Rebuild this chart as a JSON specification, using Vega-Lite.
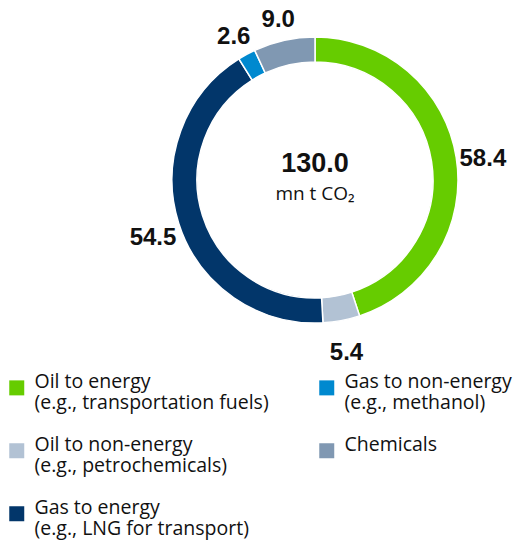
{
  "$schema": "https://vega.github.io/schema/vega-lite/v6.json",
  "width": 290,
  "height": 290,
  "autosize": {"type": "none"},
  "padding": {"left": 170, "top": 35, "right": 62, "bottom": 227},
  "background": "white",
  "config": {"view": {"stroke": null}, "font": "Liberation Sans"},
  "data": {
    "values": [
      {"category": "Oil to energy (e.g., transportation fuels)", "value": 58.4, "order": 1},
      {"category": "Oil to non-energy (e.g., petrochemicals)", "value": 5.4, "order": 2},
      {"category": "Gas to energy (e.g., LNG for transport)", "value": 54.5, "order": 3},
      {"category": "Gas to non-energy (e.g., methanol)", "value": 2.6, "order": 4},
      {"category": "Chemicals", "value": 9.0, "order": 5}
    ]
  },
  "layer": [
    {
      "mark": {"type": "arc", "innerRadius": 118, "outerRadius": 143, "stroke": "white", "strokeWidth": 1.5},
      "encoding": {
        "theta": {"field": "value", "type": "quantitative", "stack": true},
        "order": {"field": "order", "type": "quantitative"},
        "color": {
          "field": "category",
          "type": "nominal",
          "scale": {
            "domain": [
              "Oil to energy (e.g., transportation fuels)",
              "Oil to non-energy (e.g., petrochemicals)",
              "Gas to energy (e.g., LNG for transport)",
              "Gas to non-energy (e.g., methanol)",
              "Chemicals"
            ],
            "range": ["#66cc00", "#b2c2d4", "#02366a", "#0089cf", "#8098b2"]
          },
          "legend": {
            "orient": "none",
            "legendX": -163,
            "legendY": 343,
            "padding": 0,
            "columns": 2,
            "columnPadding": 48,
            "rowPadding": 21,
            "title": null,
            "symbolType": "square",
            "symbolSize": 225,
            "symbolStrokeWidth": 0,
            "labelFontSize": 19.5,
            "labelFont": "Open Sans",
            "labelColor": "#111111",
            "labelOffset": 8,
            "labelLimit": 400,
            "labelBaseline": "alphabetic",
            "labelExpr": "split(replace(datum.label, ' (', '|('), '|')",
            "labelLineHeight": 23.5
          }
        }
      }
    },
    {
      "mark": {"type": "text", "radius": 170, "fontSize": 24, "fontWeight": "bold", "dy": 6, "color": "#111111"},
      "encoding": {
        "theta": {"field": "value", "type": "quantitative", "stack": true},
        "order": {"field": "order", "type": "quantitative"},
        "text": {"field": "value", "type": "quantitative", "format": ".1f"}
      }
    },
    {
      "data": {"values": [{"total": 130.0}]},
      "layer": [
        {
          "mark": {"type": "text", "fontSize": 27, "fontWeight": "bold", "dy": -16, "color": "#111111"},
          "encoding": {"text": {"field": "total", "type": "quantitative", "format": ".1f"}}
        },
        {
          "mark": {"type": "text", "fontSize": 19, "font": "Open Sans", "dy": 14, "text": "mn t CO₂", "color": "#111111"},
          "encoding": {}
        }
      ]
    }
  ]
}
